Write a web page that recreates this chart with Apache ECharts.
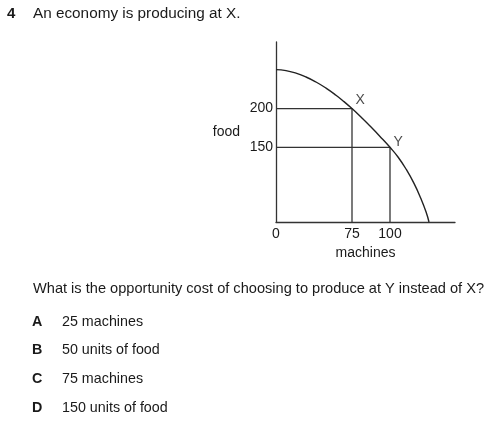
<!DOCTYPE html>
<html><head><meta charset="utf-8">
<script src="https://cdn.jsdelivr.net/npm/echarts@6/dist/echarts.min.js"></script>
<style>html,body{margin:0;padding:0;background:#fff}#c{width:499px;height:432px}</style>
</head><body><div id="c"></div>
<script>
// Schematic diagram units (the drawing is not to scale; tick text gives the economic values)
const curveX = [0, 10, 20, 30, 40, 50, 60, 68, 76, 85, 94, 104, 114, 122, 130, 138, 145, 150, 153];
const curveY = [152.4, 151.4, 148.8, 145.0, 140.0, 133.9, 126.8, 120.4, 113.4, 104.9, 96.0, 85.6, 74.7, 65.0, 53.0, 38.6, 23.2, 10.2, 0];
const pointNames = ['X', 'Y'];
const pointX = [76, 114];
const pointY = [113.4, 74.7];
const xTickPos = [0, 76, 114];
const xTickText = ['0', '75', '100'];
const yTickPos = [74.7, 113.4];
const yTickText = ['150', '200'];
const xName = 'machines';
const yName = 'food';
const questionNo = '4';
const stem = 'An economy is producing at X.';
const question = 'What is the opportunity cost of choosing to produce at Y instead of X?';
const optionKeys = ['A', 'B', 'C', 'D'];
const optionTexts = ['25 machines', '50 units of food', '75 machines', '150 units of food'];

const FONT = '"Liberation Sans", Arial, sans-serif';
const INK = '#1a1a1a';
const LINE = '#333';

const chart = echarts.init(document.getElementById('c'), null, {renderer: 'canvas'});

const guideSeries = pointNames.map((n, i) => ({
  type: 'line', silent: true, symbol: 'none',
  data: [[0, pointY[i]], [pointX[i], pointY[i]], [pointX[i], 0]],
  lineStyle: {color: LINE, width: 1.3}, z: 2
}));

const labelOffsets = [[3, -8], [3, -5]];

const graphics = [
  {type: 'text', left: 7, top: 6, style: {text: questionNo, font: 'bold 15px ' + FONT, fill: INK}},
  {type: 'text', left: 33, top: 6, style: {text: stem, font: '15.3px ' + FONT, fill: INK}},
  {type: 'text', left: 33, top: 281, style: {text: question, font: '14.6px ' + FONT, fill: INK}}
];
const optTops = [315, 343.5, 372.5, 401];
optionKeys.forEach((k, i) => {
  graphics.push({type: 'text', left: 32, top: optTops[i], style: {text: k, font: 'bold 14.3px ' + FONT, fill: INK}});
  graphics.push({type: 'text', left: 62, top: optTops[i], style: {text: optionTexts[i], font: '14.3px ' + FONT, fill: INK}});
});

chart.setOption({
  animation: false,
  backgroundColor: '#fff',
  grid: {left: 276, top: 42, width: 179, height: 180},
  xAxis: {
    type: 'value', min: 0, max: 179,
    axisLine: {show: true, onZero: false, lineStyle: {color: LINE, width: 1.3}},
    axisTick: {show: false}, splitLine: {show: false},
    axisLabel: {
      customValues: xTickPos, margin: 5,
      formatter: v => xTickText[xTickPos.indexOf(v)] ?? '',
      color: INK, fontSize: 14, fontFamily: FONT
    },
    name: xName, nameLocation: 'middle', nameGap: 24,
    nameTextStyle: {color: INK, fontSize: 14, fontFamily: FONT}
  },
  yAxis: {
    type: 'value', min: 0, max: 180,
    axisLine: {show: true, onZero: false, lineStyle: {color: LINE, width: 1.3}},
    axisTick: {show: false}, splitLine: {show: false},
    axisLabel: {
      customValues: yTickPos, margin: 3,
      formatter: v => yTickText[yTickPos.indexOf(v)] ?? '',
      color: INK, fontSize: 14, fontFamily: FONT
    },
    name: yName, nameLocation: 'middle', nameRotate: 0, nameGap: 36,
    nameTextStyle: {color: INK, fontSize: 14, fontFamily: FONT, align: 'right', padding: [0, 0, 2, 0]}
  },
  series: [
    {
      type: 'line', silent: true, symbol: 'none', smooth: 0.5,
      data: curveX.map((x, i) => [x, curveY[i]]),
      lineStyle: {color: '#222', width: 1.4}, z: 3
    },
    ...guideSeries,
    {
      type: 'scatter', silent: true, symbolSize: 1,
      itemStyle: {color: 'rgba(0,0,0,0)'},
      data: pointNames.map((n, i) => ({
        name: n, value: [pointX[i], pointY[i]],
        label: {show: true, position: 'right', distance: 0, offset: labelOffsets[i],
                formatter: '{b}', color: INK, fontSize: 14, fontFamily: FONT}
      })),
      z: 4
    }
  ],
  graphic: graphics
});
</script>
</body></html>
